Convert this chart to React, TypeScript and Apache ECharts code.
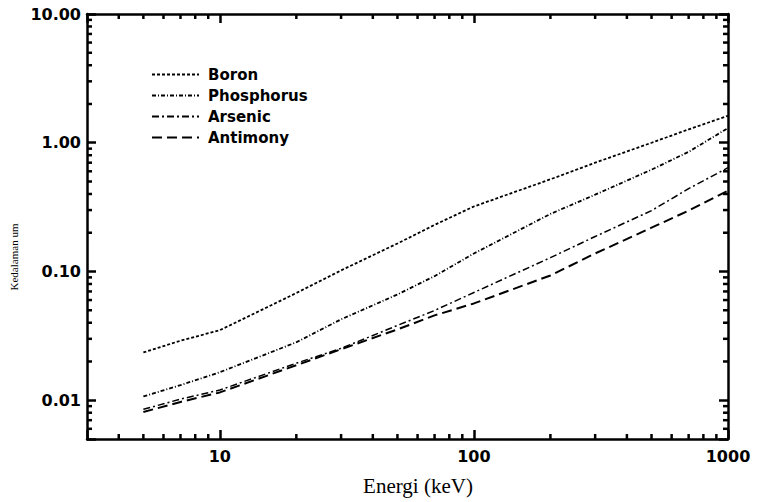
import React, { useEffect, useRef } from 'react';
import * as echarts from 'echarts';

// Energy (keV) sample points
const energies = [5, 7, 10, 20, 30, 50, 70, 100, 200, 300, 500, 700, 1000];
// Depth (um) per dopant
const boron = [0.0235, 0.029, 0.035, 0.068, 0.102, 0.165, 0.23, 0.32, 0.52, 0.7, 1.0, 1.27, 1.62];
const phosphorus = [0.0107, 0.0131, 0.0165, 0.0282, 0.0425, 0.0663, 0.092, 0.138, 0.28, 0.395, 0.618, 0.85, 1.3];
const arsenic = [0.0085, 0.0102, 0.012, 0.0194, 0.0253, 0.0381, 0.0498, 0.0687, 0.128, 0.187, 0.297, 0.44, 0.64];
const antimony = [0.0081, 0.0097, 0.0115, 0.0187, 0.0249, 0.0355, 0.0456, 0.0565, 0.0931, 0.138, 0.219, 0.297, 0.425];

const seriesNames = ['Boron', 'Phosphorus', 'Arsenic', 'Antimony'];

// Axis extents and minor tick values
const X_MIN = 3;
const X_MAX = 1000;
const Y_MIN = 0.005;
const Y_MAX = 10;
const xMinorTicks = [4, 5, 6, 7, 8, 9, 20, 30, 40, 50, 60, 70, 80, 90, 200, 300, 400, 500, 600, 700, 800, 900];
const yMinorTicks = [0.006, 0.007, 0.008, 0.009, 0.02, 0.03, 0.04, 0.05, 0.06, 0.07, 0.08, 0.09,
  0.2, 0.3, 0.4, 0.5, 0.6, 0.7, 0.8, 0.9, 2, 3, 4, 5, 6, 7, 8, 9];

const isPow10 = (v: number) => {
  const l = Math.log10(v);
  return Math.abs(l - Math.round(l)) < 1e-6;
};

export default function App() {
  const ref = useRef<HTMLDivElement>(null);
  useEffect(() => {
    if (!ref.current) return;
    const chart = echarts.init(ref.current, undefined, { renderer: 'svg' });

    const mk = (vals: number[]) => energies.map((e, i) => [e, vals[i]]);
    const styles = [
      { type: [3, 2], width: 1.8 },
      { type: [4, 2, 1, 2], width: 1.8 },
      { type: [7, 3, 2, 3], width: 1.5 },
      { type: [10, 5], width: 2 },
    ];
    const datasets = [boron, phosphorus, arsenic, antimony];

    const lineSeries: any[] = seriesNames.map((name, i) => ({
      name,
      type: 'line',
      data: mk(datasets[i]),
      showSymbol: false,
      symbol: 'none',
      smooth: false,
      lineStyle: { color: '#000', width: styles[i].width, type: styles[i].type },
      itemStyle: { color: '#000' },
    }));

    // minor ticks: [x, y, side] (0 bottom+top, 1 left+right)
    const minorData: number[][] = [];
    xMinorTicks.forEach((v) => minorData.push([v, Y_MIN, 0]));
    yMinorTicks.forEach((v) => minorData.push([X_MIN, v, 1]));

    const labelFont = { fontFamily: 'DejaVu Sans', fontWeight: 'bold', fontSize: 16, color: '#000' };
    const tickCommon = {
      axisLine: { show: true, onZero: false, lineStyle: { color: '#000', width: 2.5 } },
      axisTick: { show: true, inside: true, length: 9, lineStyle: { color: '#000', width: 2.5 } },
      splitLine: { show: false },
    };

    chart.setOption({
      animation: false,
      backgroundColor: '#fff',
      grid: { left: 87, right: 33, top: 14, bottom: 63, show: false },
      legend: {
        orient: 'vertical',
        left: 146,
        top: 62,
        itemWidth: 47,
        itemHeight: 14,
        itemGap: 6,
        data: seriesNames,
        itemStyle: { opacity: 0 },
        textStyle: { fontFamily: 'DejaVu Sans', fontWeight: 'bold', fontSize: 15, color: '#000', padding: [0, 0, 0, 4] },
      },
      xAxis: [
        {
          type: 'log', logBase: 10, min: X_MIN, max: X_MAX, position: 'bottom',
          ...tickCommon,
          axisLabel: { ...labelFont, margin: 9, formatter: (v: number) => (isPow10(v) ? String(Math.round(v)) : '') },
        },
        {
          type: 'log', logBase: 10, min: X_MIN, max: X_MAX, position: 'top',
          ...tickCommon,
          axisLabel: { show: false },
        },
      ],
      yAxis: [
        {
          type: 'log', logBase: 10, min: Y_MIN, max: Y_MAX, position: 'left',
          ...tickCommon,
          axisLabel: { ...labelFont, margin: 6, formatter: (v: number) => (isPow10(v) ? v.toFixed(2) : '') },
        },
        {
          type: 'log', logBase: 10, min: Y_MIN, max: Y_MAX, position: 'right',
          ...tickCommon,
          axisLabel: { show: false },
        },
      ],
      graphic: [
        {
          type: 'text',
          x: 418,
          y: 486,
          style: { text: 'Energi (keV)', fontFamily: 'Liberation Serif', fontSize: 21, fill: '#000', align: 'center', verticalAlign: 'middle' },
        },
        {
          type: 'text',
          x: 14,
          y: 257,
          rotation: Math.PI / 2,
          style: { text: 'Kedalaman um', fontFamily: 'Liberation Serif', fontSize: 11, fill: '#000', align: 'center', verticalAlign: 'middle' },
        },
      ],
      series: [
        ...lineSeries,
        {
          type: 'custom',
          coordinateSystem: 'cartesian2d',
          xAxisIndex: 0,
          yAxisIndex: 0,
          z: 5,
          data: minorData,
          renderItem: (params: any, api: any) => {
            const side = api.value(2);
            const len = 5;
            if (side === 0) {
              const b = api.coord([api.value(0), Y_MIN]);
              const t = api.coord([api.value(0), Y_MAX]);
              return {
                type: 'group',
                children: [
                  { type: 'line', shape: { x1: b[0], y1: b[1], x2: b[0], y2: b[1] - len }, style: { stroke: '#000', lineWidth: 2.5 } },
                  { type: 'line', shape: { x1: t[0], y1: t[1], x2: t[0], y2: t[1] + len }, style: { stroke: '#000', lineWidth: 2.5 } },
                ],
              };
            }
            const l = api.coord([X_MIN, api.value(1)]);
            const r = api.coord([X_MAX, api.value(1)]);
            return {
              type: 'group',
              children: [
                { type: 'line', shape: { x1: l[0], y1: l[1], x2: l[0] + len, y2: l[1] }, style: { stroke: '#000', lineWidth: 2.5 } },
                { type: 'line', shape: { x1: r[0], y1: r[1], x2: r[0] - len, y2: r[1] }, style: { stroke: '#000', lineWidth: 2.5 } },
              ],
            };
          },
        },
      ],
    });
    return () => chart.dispose();
  }, []);
  return <div ref={ref} style={{ width: 761, height: 502, position: 'absolute', left: 0, top: 0 }} />;
}
